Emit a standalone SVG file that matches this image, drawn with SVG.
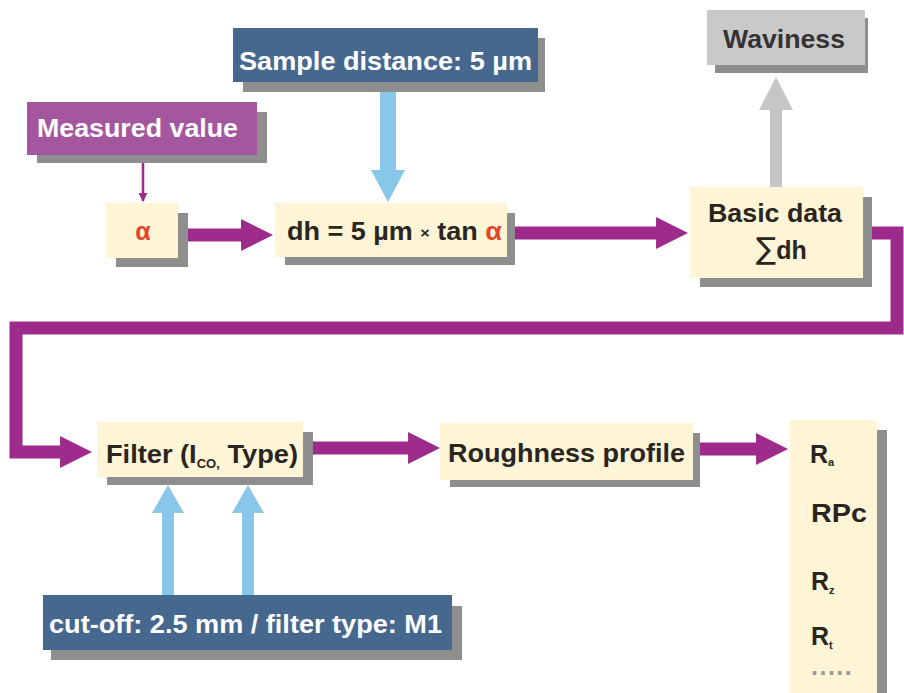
<svg xmlns="http://www.w3.org/2000/svg" width="904" height="693" viewBox="0 0 904 693">
<defs>
<style>
.sh{fill:#8e8e8e}
.cream{fill:#fdf5d6}
.navy{fill:#46688f}
.mv{fill:#a4579f}
.wv{fill:#c9c9c9}
.t{font-family:"Liberation Sans",Arial,sans-serif;font-weight:bold;font-size:25px}
.w{fill:#ffffff}
.k{fill:#2a2520}
.red{fill:#e2452c}
.pl{fill:none;stroke:#9c2b8b;stroke-width:13}
.bl{fill:#88c6ea}
.gr{fill:#c6c6c6}
</style>
<marker id="ph" viewBox="0 0 10 10" refX="0.3" refY="5" markerWidth="32" markerHeight="33" markerUnits="userSpaceOnUse" orient="auto">
<path d="M0,0 L10,5 L0,10 z" fill="#9c2b8b"/>
</marker>
<marker id="sh" viewBox="0 0 10 10" refX="9" refY="5" markerWidth="9" markerHeight="9" markerUnits="userSpaceOnUse" orient="auto">
<path d="M0,0 L10,5 L0,10 z" fill="#9c2b8b"/>
</marker>
</defs>
<rect width="904" height="693" fill="#ffffff"/>

<g id="connectors">
<path class="pl" d="M178,235 H242" marker-end="url(#ph)"/>
<path class="pl" d="M515,233 H657" marker-end="url(#ph)"/>
<path class="pl" d="M863,233 H897 V328 H16 V452 H61" marker-end="url(#ph)"/>
<path class="pl" d="M303,448 H409" marker-end="url(#ph)"/>
<path class="pl" d="M693,449 H757" marker-end="url(#ph)"/>
<path d="M143,155 V201" fill="none" stroke="#9c2b8b" stroke-width="2.5" marker-end="url(#sh)"/>
<polygon class="bl" points="380,82 396,82 396,170 405,170 388,202 371,170 380,170"/>
<polygon class="bl" points="162,595 174,595 174,513 184,513 168,485 152,513 162,513"/>
<polygon class="bl" points="242,595 254,595 254,513 264,513 248,485 232,513 242,513"/>
<polygon class="gr" points="770,187 782,187 782,110 793,110 776,77 759,110 770,110"/>
</g>

<g id="sample">
<rect class="sh" x="243" y="38" width="302" height="54"/>
<rect class="navy" x="233" y="28" width="305" height="54"/>
<text class="t w" x="239" y="70" textLength="293" lengthAdjust="spacingAndGlyphs">Sample distance: 5 µm</text>
</g>

<g id="measured">
<rect class="sh" x="37" y="112" width="230" height="51"/>
<rect class="mv" x="27" y="102" width="230" height="53"/>
<text class="t w" x="37" y="137" textLength="201" lengthAdjust="spacingAndGlyphs">Measured value</text>
</g>

<g id="alpha">
<rect class="sh" x="116" y="213" width="72" height="54"/>
<rect class="cream" x="106" y="203" width="72" height="55"/>
<text class="t red" x="143" y="240" text-anchor="middle" font-size="21">α</text>
</g>

<g id="dh">
<rect class="sh" x="285" y="213" width="230" height="52"/>
<rect class="cream" x="275" y="203" width="232" height="54"/>
<text class="t k" x="287" y="240" textLength="215" lengthAdjust="spacingAndGlyphs">dh = 5 µm <tspan font-size="15" dy="-2">×</tspan><tspan dy="2"> tan </tspan><tspan class="red">α</tspan></text>
</g>

<g id="basic">
<rect class="sh" x="700" y="197" width="172" height="90"/>
<rect class="cream" x="690" y="187" width="173" height="91"/>
<text class="t k" x="708" y="222" font-size="26" textLength="134" lengthAdjust="spacingAndGlyphs">Basic data</text>
<text class="t k" x="756" y="259" font-size="26"><tspan font-weight="normal" font-family="DejaVu Sans, sans-serif" font-size="30">∑</tspan>dh</text>
</g>

<g id="waviness">
<rect class="sh" x="715" y="18" width="153" height="55"/>
<rect class="wv" x="707" y="10" width="158" height="55"/>
<text class="t" fill="#333333" x="723" y="48" textLength="122" lengthAdjust="spacingAndGlyphs">Waviness</text>
</g>

<g id="filter">
<rect class="sh" x="107" y="432" width="206" height="53"/>
<rect class="cream" x="97" y="422" width="206" height="55"/>
<text class="t k" x="106" y="463" textLength="192" lengthAdjust="spacingAndGlyphs">Filter (I<tspan font-size="12" dy="5">CO,</tspan><tspan dy="-5"> Type)</tspan></text>
</g>

<g id="roughness">
<rect class="sh" x="450" y="433" width="250" height="54"/>
<rect class="cream" x="440" y="423" width="253" height="57"/>
<text class="t k" x="448" y="462" textLength="237" lengthAdjust="spacingAndGlyphs">Roughness profile</text>
</g>

<g id="results">
<rect class="sh" x="800" y="430" width="87" height="263"/>
<rect class="cream" x="790" y="420" width="87" height="273"/>
<text class="t k" x="810" y="463">R<tspan font-size="11" dy="3">a</tspan></text>
<text class="t k" x="811" y="522" textLength="56" lengthAdjust="spacingAndGlyphs">RPc</text>
<text class="t k" x="811" y="590" font-size="23">R<tspan font-size="11" dy="4">z</tspan></text>
<text class="t k" x="811" y="645" font-size="23">R<tspan font-size="11" dy="4">t</tspan></text>
<text class="t" fill="#9a9a9a" x="811" y="675" font-size="10" font-weight="normal" letter-spacing="1.5">.....</text>
</g>

<g id="cutoff">
<rect class="sh" x="51" y="606" width="411" height="54"/>
<rect class="navy" x="43" y="595" width="409" height="55"/>
<text class="t w" x="49" y="633" textLength="393" lengthAdjust="spacingAndGlyphs">cut-off: 2.5 mm / filter type: M1</text>
</g>
</svg>
